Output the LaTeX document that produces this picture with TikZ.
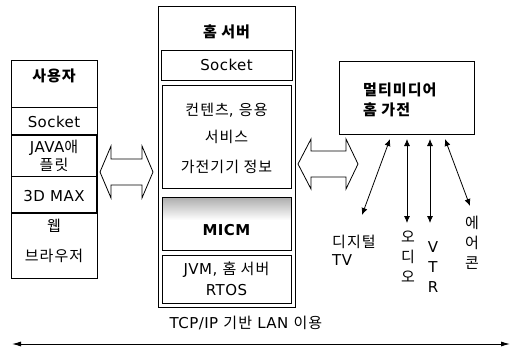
\documentclass[tikz,border=0pt]{standalone}
\usepackage{fontspec}
\setmainfont[LetterSpace=3]{DejaVu Sans}
\newfontfamily\kr[Scale=1.0,LetterSpace=7]{Noto Sans CJK KR}
\newcommand{\K}[1]{{\kr #1}}
\usetikzlibrary{arrows.meta}
\begin{document}
\begin{tikzpicture}[x=1pt,y=-1pt,
  box/.style={draw, line width=0.8pt, inner sep=0pt, anchor=north west},
  thick box/.style={box, line width=1.3pt},
  lbl/.style={inner sep=0pt, font=\fontsize{15}{17}\selectfont},
  blbl/.style={lbl, font=\fontsize{15}{17}\selectfont\bfseries},
  stack/.style={lbl, align=center, font=\fontsize{15}{20}\selectfont},
  blockarrow/.style={draw, line width=0.8pt, line join=miter, fill=white},
  link/.style={line width=0.8pt, {Latex[length=7pt,width=6pt]}-{Latex[length=7pt,width=6pt]}}
]
\useasboundingbox (0,0) rectangle (517,349);
% ---------- left column: user ----------
\node[box, minimum width=86pt, minimum height=218pt] (user) at (11,60) {};
\coordinate (u1l) at (11,107);  \coordinate (u1r) at (97,107);
\coordinate (u2l) at (11,135);  \coordinate (u2r) at (97,135);
\coordinate (u3l) at (11,176);  \coordinate (u3r) at (97,176);
\coordinate (u4l) at (11,213);  \coordinate (u4r) at (97,213);
\draw[line width=0.8pt] (u1l) -- (u1r);
\draw[line width=1.4pt] (u2l) -- (u2r);
\draw[line width=0.8pt] (u3l) -- (u3r);
\draw[line width=1.4pt] (u4l) -- (u4r);
\draw[line width=1.4pt] (u2r) -- (u4r);
\node[blbl] (t-user) at (54,76) {\K{사용자}};
\node[lbl] (t-usock) at (54,122) {Socket};
\node[lbl] (t-java1) at (54,148) {JAVA\K{애}};
\node[lbl] (t-java2) at (54,165) {\K{플릿}};
\node[lbl] (t-3d) at (54,196) {3D MAX};
\node[lbl] (t-web1) at (54,226) {\K{웹}};
\node[lbl] (t-web2) at (54,256) {\K{브라우저}};
% ---------- left block arrow ----------
\draw[blockarrow] (100,172) -- (111,146) -- (111,159) -- (142,159) -- (142,146)
  -- (153,172) -- (142,198) -- (142,185) -- (111,185) -- (111,198) -- cycle;
% ---------- middle column: home server ----------
\node[box, minimum width=137pt, minimum height=301pt] (server) at (158,6) {};
\node[blbl] (t-server) at (226.5,32) {\K{홈 서버}};
\node[box, minimum width=131pt, minimum height=30pt] (ssock) at (161,50) {};
\node[lbl] (t-ssock) at (226.5,65) {Socket};
\node[box, minimum width=129pt, minimum height=103pt] (content) at (162,85) {};
\node[lbl] (t-c1) at (226.5,110) {\K{컨텐츠}, \K{응용}};
\node[lbl] (t-c2) at (226.5,137) {\K{서비스}};
\node[lbl] (t-c3) at (226.5,167) {\K{가전기기 정보}};
\shade[top color=gray!65, bottom color=white] (162,197) rectangle (291,220);
\node[thick box, minimum width=129pt, minimum height=53pt] (micm) at (162,197) {};
\node[blbl] (t-micm) at (226.5,230) {MICM};
\node[box, minimum width=129pt, minimum height=48pt] (jvm) at (162,255) {};
\node[lbl] (t-jvm1) at (226.5,270) {JVM, \K{홈 서버}};
\node[lbl] (t-jvm2) at (226.5,290) {RTOS};
% ---------- right block arrow ----------
\draw[blockarrow] (298,164) -- (311,139) -- (311,151) -- (346,151) -- (346,139)
  -- (358,164) -- (346,189) -- (346,177) -- (311,177) -- (311,189) -- cycle;
% ---------- right: multimedia appliance ----------
\node[box, minimum width=135pt, minimum height=73pt] (mm) at (339,61) {};
\node[blbl, anchor=west] (t-mm1) at (363,90) {\K{멀티미디어}};
\node[blbl, anchor=west] (t-mm2) at (363,110) {\K{홈 가전}};
% device labels
\node[lbl, anchor=west] (t-dtv1) at (332,242) {\K{디지털}};
\node[lbl, anchor=west] (t-dtv2) at (332,260) {TV};
\node[stack] (t-audio) at (408,257) {\K{오}\\\K{디}\\\K{오}};
\node[stack] (t-vtr) at (433,267) {V\\T\\R};
\node[stack] (t-air) at (472,243) {\K{에}\\\K{어}\\\K{콘}};
% connector ends
\coordinate (a1s) at (390,139); \coordinate (a1e) at (362,215);
\coordinate (a2s) at (407,139); \coordinate (a2e) at (407,223);
\coordinate (a3s) at (430,139); \coordinate (a3e) at (430,223);
\coordinate (a4s) at (445,139); \coordinate (a4e) at (470,206);
\draw[link] (a1s) -- (a1e);
\draw[link] (a2s) -- (a2e);
\draw[link] (a3s) -- (a3e);
\draw[link] (a4s) -- (a4e);
% ---------- bottom LAN ----------
\node[lbl] (t-lan) at (246,323) {TCP/IP \K{기반} LAN \K{이용}};
\coordinate (lanL) at (12,344);
\coordinate (lanR) at (510,344);
\draw[line width=0.9pt, {Latex[length=9pt,width=5pt]}-{Latex[length=9pt,width=5pt]}] (lanL) -- (lanR);
\end{tikzpicture}
\end{document}
